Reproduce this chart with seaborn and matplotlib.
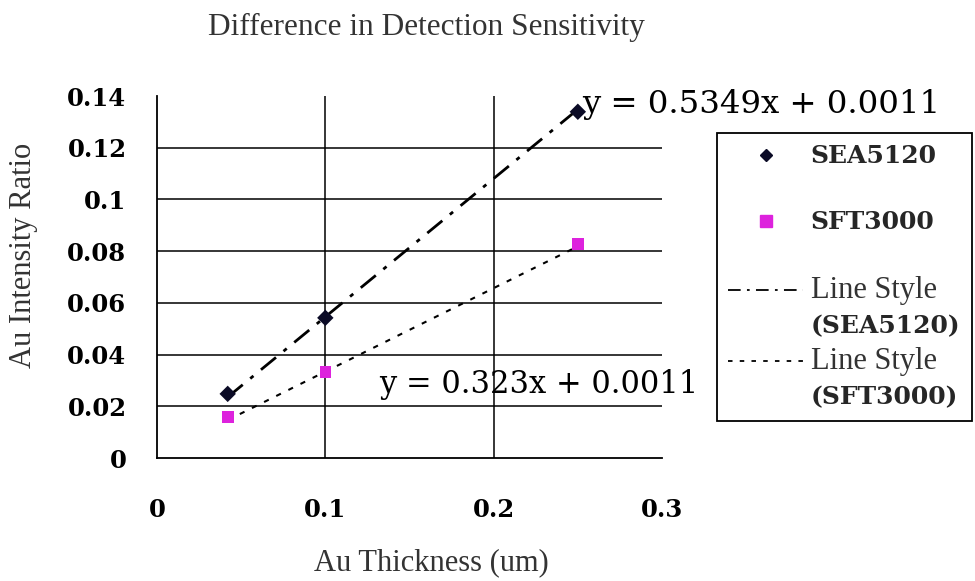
import matplotlib
matplotlib.use("Agg")
import matplotlib.pyplot as plt
from matplotlib.lines import Line2D
import numpy as np
import pandas as pd
import seaborn as sns

# ---- data ----
thickness = [0.042, 0.1, 0.25]
sea5120 = [0.0248, 0.0542, 0.1339]
sft3000 = [0.0159, 0.0333, 0.0828]
series_names = ["SEA5120", "SFT3000"]
fit_slopes = [0.5349, 0.323]
fit_intercepts = [0.0011, 0.0011]
x_ticks = [0, 0.1, 0.2, 0.3]
x_tick_labels = ["0", "0.1", "0.2", "0.3"]
y_ticks = [0, 0.02, 0.04, 0.06, 0.08, 0.1, 0.12, 0.14]
y_tick_labels = ["0", "0.02", "0.04", "0.06", "0.08", "0.1", "0.12", "0.14"]
eq_labels = ["y = 0.5349x + 0.0011", "y = 0.323x + 0.0011"]

sns.set_theme(style="white")
plt.rcParams["font.family"] = ["DejaVu Serif"]

df = pd.DataFrame({
    "thickness": thickness * 2,
    "ratio": sea5120 + sft3000,
    "series": [series_names[0]] * 3 + [series_names[1]] * 3,
})

fig = plt.figure(figsize=(9.75, 5.81), dpi=100)
ax = fig.add_axes([157 / 975, 1 - 458 / 581, 505 / 975, 362 / 581])

navy = "#0b0b26"
magenta = "#dd22dd"
txt_gray = "#333333"

# trend lines from the fitted coefficients over the data range
xs = np.array([min(thickness), max(thickness)])
line_styles = [(0, (7, 3.5, 1.5, 3.5)), (0, (2.5, 4))]
line_widths = [2.0, 1.5]
for k in range(2):
    ax.plot(xs, fit_slopes[k] * xs + fit_intercepts[k], color="black",
            linestyle=line_styles[k], linewidth=line_widths[k], zorder=3)

sns.scatterplot(data=df, x="thickness", y="ratio", hue="series", style="series",
                markers={"SEA5120": "D", "SFT3000": "s"},
                palette={"SEA5120": navy, "SFT3000": magenta},
                s=70, edgecolor="none", legend=False, ax=ax, zorder=4)

ax.set_xlim(0, 0.3)
ax.set_ylim(0, 0.14)
ax.set_xticks(x_ticks)
ax.set_xticklabels(x_tick_labels)
ax.set_yticks(y_ticks)
ax.set_yticklabels(y_tick_labels)

for lab in ax.get_xticklabels() + ax.get_yticklabels():
    lab.set_fontfamily("DejaVu Serif")
    lab.set_fontweight("bold")
    lab.set_fontsize(17.5)
    lab.set_color("black")

ax.tick_params(axis="both", direction="in", length=6, width=1.2, color="black")
ax.tick_params(axis="y", pad=22)
ax.tick_params(axis="x", pad=29)

ax.grid(True, color="black", linewidth=1.1)
ax.xaxis.get_gridlines()[-1].set_visible(False)
ax.yaxis.get_gridlines()[-1].set_visible(False)
ax.xaxis.get_gridlines()[0].set_visible(False)
ax.yaxis.get_gridlines()[0].set_visible(False)
for side in ["top", "right"]:
    ax.spines[side].set_visible(False)
for side in ["left", "bottom"]:
    ax.spines[side].set_color("black")
    ax.spines[side].set_linewidth(1.3)

label_font = dict(family="Liberation Serif", size=22, color=txt_gray)
ax.set_xlabel("Au Thickness (um)", **label_font)
ax.set_ylabel("Au Intensity Ratio", **label_font)
ax.xaxis.set_label_coords(0.543, -0.25)
ax.yaxis.set_label_coords(-0.235, 0.56)

fig.text(426 / 975, 1 - 27 / 581, "Difference in Detection Sensitivity",
         ha="center", va="center", family="Liberation Serif", size=22.5, color=txt_gray)

# equation annotations
ax.text(0.2525, 0.1368, eq_labels[0], ha="left", va="center",
        family="DejaVu Serif", size=23.3, color="black")
ax.text(0.132, 0.0283, eq_labels[1], ha="left", va="center",
        family="DejaVu Serif", size=22, color="black")

# legend
blank = Line2D([], [], linestyle="none")
handles = [
    Line2D([], [], linestyle="none", marker="D", color=navy, markersize=6),
    blank,
    Line2D([], [], linestyle="none", marker="s", color=magenta, markersize=8),
    blank,
    Line2D([], [], color="black", linestyle=line_styles[0], linewidth=1.3),
    blank,
    Line2D([], [], color="black", linestyle=line_styles[1], linewidth=1.3),
    blank,
]
labels = [series_names[0], " ", series_names[1], " ",
          "Line Style", "(" + series_names[0] + ")",
          "Line Style", "(" + series_names[1] + ")"]
leg = ax.legend(handles, labels, loc="upper left",
                bbox_to_anchor=(717 / 975, 1 - 133 / 581),
                bbox_transform=fig.transFigure, borderaxespad=0,
                frameon=True, fancybox=False, framealpha=1,
                edgecolor="black", borderpad=0.45, labelspacing=0.36,
                handlelength=3.0, handletextpad=0.3,
                prop=dict(family="DejaVu Serif", weight="bold", size=18))
leg.get_frame().set_linewidth(1.3)
for t in leg.get_texts():
    if t.get_text() == "Line Style":
        t.set_fontfamily("Liberation Serif")
        t.set_fontweight("normal")
        t.set_fontsize(22)
        t.set_color(txt_gray)

fig.savefig("out.png", dpi=100, facecolor="white")
